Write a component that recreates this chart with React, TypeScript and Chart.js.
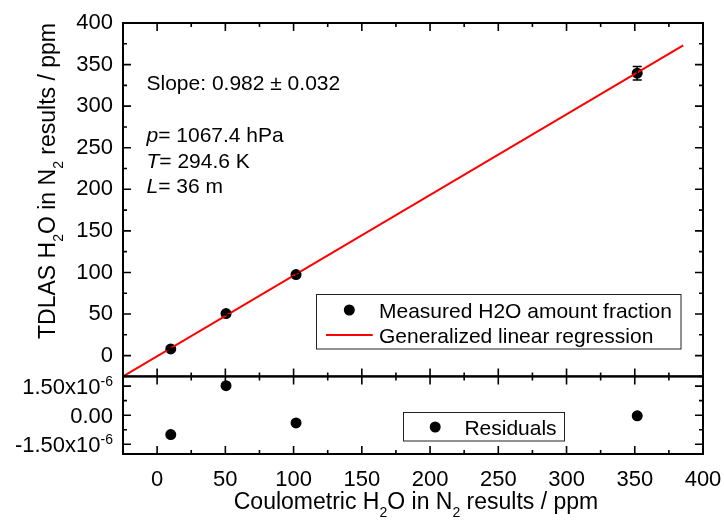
import React, { useEffect, useRef } from "react";
import { Chart, registerables } from "chart.js";

Chart.register(...registerables);

// ---------- data ----------
const measX = [10, 50.5, 101.8, 351.8];
const measY = [8, 50.5, 97.4, 339.6];
const measErr = [1, 1.5, 2.5, 8];

const fitX = [-25, 385.5];
const fitY = [-25, 373];

const resX = [10, 50.5, 101.8, 351.8];
const resY = [-1.0e-6, 1.52e-6, -0.4e-6, -0.03e-6];

const xMajor = [0, 50, 100, 150, 200, 250, 300, 350, 400];
const xMinor = [-25, 25, 75, 125, 175, 225, 275, 325, 375];
const yMajor = [0, 50, 100, 150, 200, 250, 300, 350, 400];
const yMinor = [-25, 25, 75, 125, 175, 225, 275, 325, 375];
const rMajor = [-1.5e-6, 0, 1.5e-6];
const rMinor = [-0.75e-6, 0.75e-6];
const rLabels = ["-1.50x10|-6", "0.00", "1.50x10|-6"];

const FONT = '"Liberation Sans", Arial, Helvetica, sans-serif';

type Seg = { t: string; sub?: boolean; sup?: boolean; it?: boolean };

function drawRich(
  ctx: CanvasRenderingContext2D,
  segs: Seg[],
  x: number,
  y: number,
  size: number,
  small: number,
  align: "left" | "right" | "center",
  subOff: number,
  supOff: number
) {
  const f = (s: Seg) =>
    `${s.it ? "italic " : ""}${s.sub || s.sup ? small : size}px ${FONT}`;
  let w = 0;
  const ws: number[] = [];
  segs.forEach((s) => {
    ctx.font = f(s);
    const m = ctx.measureText(s.t).width;
    ws.push(m);
    w += m;
  });
  let cx = align === "left" ? x : align === "right" ? x - w : x - w / 2;
  ctx.textAlign = "left";
  ctx.textBaseline = "alphabetic";
  segs.forEach((s, i) => {
    ctx.font = f(s);
    ctx.fillText(s.t, cx, y + (s.sub ? subOff : s.sup ? supOff : 0));
    cx += ws[i];
  });
}

const overlay = {
  id: "overlay",
  afterDatasetsDraw(chart: any) {
    const ctx: CanvasRenderingContext2D = chart.ctx;
    const xs = chart.scales.x;
    const ys = chart.scales.y;
    const y2 = chart.scales.y2;
    const L = chart.chartArea.left;
    const R = chart.chartArea.right;
    ctx.save();
    ctx.strokeStyle = "#000";
    ctx.fillStyle = "#000";

    // error bars
    ctx.lineWidth = 1.5;
    measX.forEach((xv, i) => {
      const px = xs.getPixelForValue(xv);
      const t = ys.getPixelForValue(measY[i] + measErr[i]);
      const b = ys.getPixelForValue(measY[i] - measErr[i]);
      ctx.beginPath();
      ctx.moveTo(px, t);
      ctx.lineTo(px, b);
      ctx.moveTo(px - 4.5, t);
      ctx.lineTo(px + 4.5, t);
      ctx.moveTo(px - 4.5, b);
      ctx.lineTo(px + 4.5, b);
      ctx.stroke();
    });

    // frames
    ctx.lineWidth = 2;
    [ys, y2].forEach((s: any) => {
      ctx.strokeRect(L, s.top, R - L, s.bottom - s.top);
    });

    // x ticks on each panel edge
    ctx.lineWidth = 1.6;
    const xt = (vals: number[], len: number) => {
      vals.forEach((v) => {
        const px = xs.getPixelForValue(v);
        [ys, y2].forEach((s: any) => {
          ctx.beginPath();
          ctx.moveTo(px, s.top);
          ctx.lineTo(px, s.top + len);
          ctx.moveTo(px, s.bottom);
          ctx.lineTo(px, s.bottom - len);
          ctx.stroke();
        });
      });
    };
    xt(xMajor, 8);
    xt(xMinor, 4);

    const yt = (s: any, vals: number[], len: number) => {
      vals.forEach((v) => {
        const py = s.getPixelForValue(v);
        ctx.beginPath();
        ctx.moveTo(L, py);
        ctx.lineTo(L + len, py);
        ctx.moveTo(R, py);
        ctx.lineTo(R - len, py);
        ctx.stroke();
      });
    };
    yt(ys, yMajor, 8);
    yt(ys, yMinor, 4);
    yt(y2, rMajor, 8);
    yt(y2, rMinor, 4);

    // residual tick labels
    rMajor.forEach((v, i) => {
      const py = y2.getPixelForValue(v);
      const parts = rLabels[i].split("|");
      const segs: Seg[] = [{ t: parts[0] }];
      if (parts[1]) segs.push({ t: parts[1], sup: true });
      drawRich(ctx, segs, L - 10, py + 7.5, 22, 14, "right", 0, -8);
    });

    // annotation text
    const tx = L + 23.5;
    drawRich(ctx, [{ t: "Slope: 0.982 \u00b1 0.032" }], tx, 90, 21, 13, "left", 0, 0);
    drawRich(ctx, [{ t: "p", it: true }, { t: "= 1067.4 hPa" }], tx, 141.7, 21, 13, "left", 0, 0);
    drawRich(ctx, [{ t: "T", it: true }, { t: "= 294.6 K" }], tx, 168.3, 21, 13, "left", 0, 0);
    drawRich(ctx, [{ t: "L", it: true }, { t: "= 36 m" }], tx, 193.3, 21, 13, "left", 0, 0);

    // main legend
    ctx.lineWidth = 1;
    ctx.strokeStyle = "#222";
    ctx.strokeRect(316.5, 294.5, 364.5, 54.5);
    ctx.fillStyle = "#000";
    ctx.beginPath();
    ctx.arc(349.3, 310, 5.5, 0, Math.PI * 2);
    ctx.fill();
    ctx.strokeStyle = "#ff0000";
    ctx.lineWidth = 2;
    ctx.beginPath();
    ctx.moveTo(326, 335);
    ctx.lineTo(372.7, 335);
    ctx.stroke();
    drawRich(ctx, [{ t: "Measured H2O amount fraction" }], 379, 317.5, 21, 13, "left", 0, 0);
    drawRich(ctx, [{ t: "Generalized linear regression" }], 379, 342.5, 21, 13, "left", 0, 0);

    // residual legend
    ctx.lineWidth = 1;
    ctx.strokeStyle = "#222";
    ctx.strokeRect(403.5, 412.5, 161, 28.5);
    ctx.beginPath();
    ctx.arc(435.2, 427, 5.5, 0, Math.PI * 2);
    ctx.fill();
    drawRich(ctx, [{ t: "Residuals" }], 464.4, 434.5, 21, 13, "left", 0, 0);

    // axis titles
    drawRich(
      ctx,
      [
        { t: "Coulometric H" },
        { t: "2", sub: true },
        { t: "O in N" },
        { t: "2", sub: true },
        { t: " results / ppm" },
      ],
      (L + R) / 2 + 3,
      509,
      23,
      14,
      "center",
      8,
      0
    );
    ctx.save();
    ctx.translate(55, 181);
    ctx.rotate(-Math.PI / 2);
    drawRich(
      ctx,
      [
        { t: "TDLAS H" },
        { t: "2", sub: true },
        { t: "O in N" },
        { t: "2", sub: true },
        { t: " results / ppm" },
      ],
      0,
      0,
      23,
      14,
      "center",
      8,
      0
    );
    ctx.restore();

    ctx.restore();
  },
};

const noPad = (s: any) => {
  s.paddingLeft = 0;
  s.paddingRight = 0;
  s.paddingTop = 0;
  s.paddingBottom = 0;
};

export default function App() {
  const ref = useRef<HTMLCanvasElement | null>(null);

  useEffect(() => {
    if (!ref.current) return;
    const tickFont = { family: FONT, size: 22 };
    const chart = new Chart(ref.current, {
      type: "scatter",
      data: {
        datasets: [
          {
            type: "line",
            label: "Generalized linear regression",
            data: fitX.map((x, i) => ({ x, y: fitY[i] })),
            borderColor: "#ff0000",
            borderWidth: 2,
            pointRadius: 0,
            showLine: true,
            xAxisID: "x",
            yAxisID: "y",
          },
          {
            label: "Measured H2O amount fraction",
            data: measX.map((x, i) => ({ x, y: measY[i] })),
            backgroundColor: "#000",
            borderWidth: 0,
            pointRadius: 5.5,
            xAxisID: "x",
            yAxisID: "y",
          },
          {
            label: "Residuals",
            data: resX.map((x, i) => ({ x, y: resY[i] })),
            backgroundColor: "#000",
            borderWidth: 0,
            pointRadius: 5.5,
            xAxisID: "x",
            yAxisID: "y2",
          },
        ],
      } as any,
      options: {
        animation: false,
        responsive: true,
        maintainAspectRatio: false,
        layout: { padding: { top: 23, right: 21, left: 0, bottom: 0 } },
        plugins: {
          legend: { display: false },
          tooltip: { enabled: false },
        },
        scales: {
          x: {
            type: "linear",
            position: "bottom",
            min: -25,
            max: 400,
            grid: { display: false, drawTicks: false },
            border: { display: false },
            ticks: { font: tickFont, color: "#000", padding: 13, maxRotation: 0, autoSkip: false },
            afterBuildTicks: (s: any) => {
              s.ticks = xMajor.map((v) => ({ value: v }));
            },
            afterFit: (s: any) => {
              s.height = 70;
              noPad(s);
            },
          },
          y2: {
            type: "linear",
            position: "left",
            stack: "panels",
            stackWeight: 77.6,
            weight: 1,
            min: -2e-6,
            max: 2e-6,
            grid: { display: false, drawTicks: false },
            border: { display: false },
            ticks: { display: false },
            afterBuildTicks: (s: any) => {
              s.ticks = rMajor.map((v) => ({ value: v }));
            },
            afterFit: (s: any) => {
              s.width = 123;
              noPad(s);
            },
          },
          y: {
            type: "linear",
            position: "left",
            stack: "panels",
            stackWeight: 353.4,
            weight: 2,
            min: -25,
            max: 400,
            grid: { display: false, drawTicks: false },
            border: { display: false },
            ticks: { font: tickFont, color: "#000", padding: 10, autoSkip: false },
            afterBuildTicks: (s: any) => {
              s.ticks = yMajor.map((v) => ({ value: v }));
            },
            afterFit: (s: any) => {
              s.width = 123;
              noPad(s);
            },
          },
        } as any,
      },
      plugins: [overlay],
    });
    return () => chart.destroy();
  }, []);

  return (
    <div
      style={{
        position: "fixed",
        left: 0,
        top: 0,
        width: 724,
        height: 524,
        background: "#fff",
      }}
    >
      <canvas ref={ref} />
    </div>
  );
}
